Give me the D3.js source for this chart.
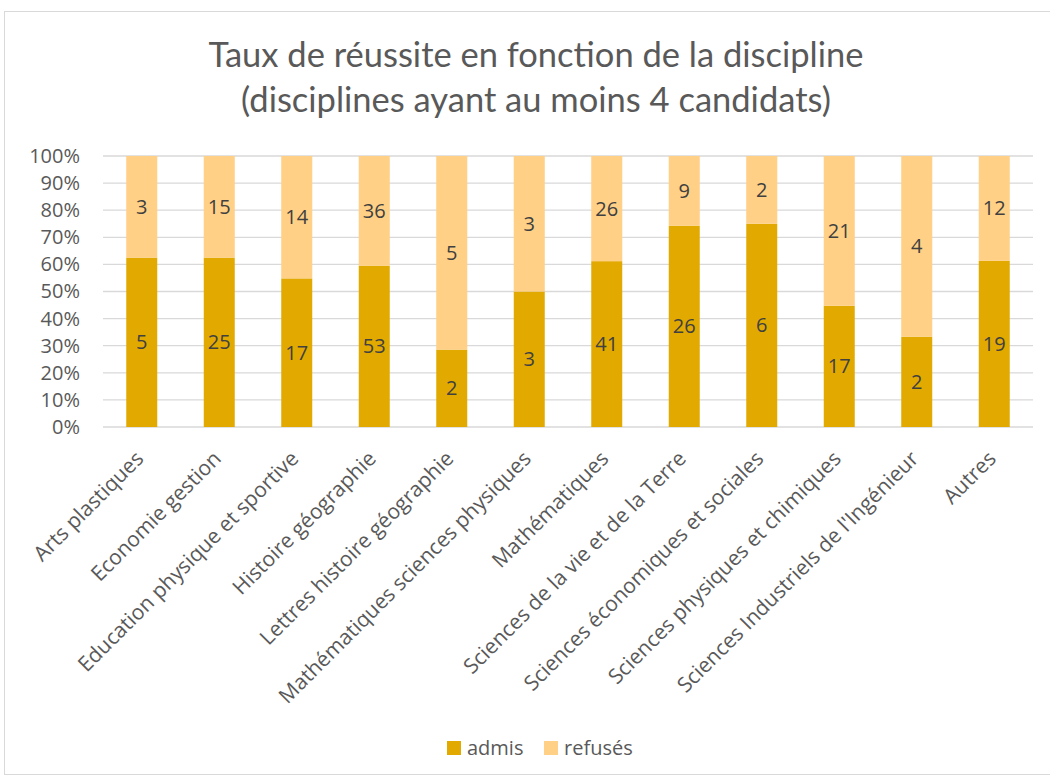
<!DOCTYPE html>
<html>
<head>
<meta charset="utf-8">
<script src="https://cdn.jsdelivr.net/npm/d3@7"></script>
<style>
  body { margin: 0; background: #fff; }
  text { font-family: "Open Sans", sans-serif; }
</style>
</head>
<body>
<svg id="chart"></svg>
<script>
const categories = ["Arts plastiques", "Economie gestion", "Education physique et sportive",
  "Histoire géographie", "Lettres histoire géographie", "Mathématiques sciences physiques",
  "Mathématiques", "Sciences de la vie et de la Terre", "Sciences économiques et sociales",
  "Sciences physiques et chimiques", "Sciences Industriels de l'Ingénieur", "Autres"];
const admis = [5, 25, 17, 53, 2, 3, 41, 26, 6, 17, 2, 19];
const refuses = [3, 15, 14, 36, 5, 3, 26, 9, 2, 21, 4, 12];
const seriesNames = ["admis", "refusés"];
const yTicks = [0, 0.1, 0.2, 0.3, 0.4, 0.5, 0.6, 0.7, 0.8, 0.9, 1];

const W = 1050, H = 778;
const margin = { top: 156, right: 17, bottom: 351, left: 103 };
const width = W - margin.left - margin.right;
const height = H - margin.top - margin.bottom;
const colors = { "admis": "#e2aa00", "refusés": "#ffd085" };

const svg = d3.select("#chart").attr("width", W).attr("height", H);

// chart frame
svg.append("rect")
  .attr("x", 4.5).attr("y", 11.5)
  .attr("width", W).attr("height", H - 15)
  .attr("fill", "none").attr("stroke", "#d9d9d9");

const title = svg.append("g");
title.append("text")
  .attr("x", 536).attr("y", 67)
  .attr("text-anchor", "middle")
  .attr("font-size", 34.5).attr("fill", "#595959")
  .style("font-family", "Lato, sans-serif")
  .text("Taux de réussite en fonction de la discipline");
title.append("text")
  .attr("x", 536).attr("y", 112)
  .attr("text-anchor", "middle")
  .attr("font-size", 34.5).attr("fill", "#595959")
  .style("font-family", "Lato, sans-serif")
  .text("(disciplines ayant au moins 4 candidats)");

const g = svg.append("g").attr("transform", `translate(${margin.left},${margin.top})`);

const data = categories.map((c, i) => ({ cat: c, "admis": admis[i], "refusés": refuses[i] }));
const stack = d3.stack().keys(seriesNames).offset(d3.stackOffsetExpand);
const layers = stack(data);

const x = d3.scaleBand().domain(categories).range([0, width]).paddingInner(0.6).paddingOuter(0.3);
const y = d3.scaleLinear().domain([0, 1]).range([height, 0]);

// gridlines
g.append("g")
  .selectAll("line")
  .data(yTicks)
  .join("line")
  .attr("x1", 0).attr("x2", width)
  .attr("y1", d => y(d)).attr("y2", d => y(d))
  .attr("stroke", "#d9d9d9").attr("stroke-width", 1.3);

const yAxis = d3.axisLeft(y).tickValues(yTicks).tickFormat(d3.format(".0%")).tickSize(0).tickPadding(23);
g.append("g").call(yAxis)
  .call(a => a.select(".domain").remove())
  .selectAll("text")
  .attr("font-size", 20).attr("fill", "#595959")
  .style("font-family", "'Open Sans', sans-serif");

const layerG = g.selectAll(".layer")
  .data(layers)
  .join("g")
  .attr("class", "layer")
  .attr("fill", d => colors[d.key]);

layerG.selectAll("rect")
  .data(d => d)
  .join("rect")
  .attr("x", d => x(d.data.cat))
  .attr("y", d => y(d[1]))
  .attr("width", x.bandwidth())
  .attr("height", d => y(d[0]) - y(d[1]));

layerG.selectAll(".lbl")
  .data(d => d.map(v => ({ v, key: d.key })))
  .join("text")
  .attr("class", "lbl")
  .attr("x", d => x(d.v.data.cat) + x.bandwidth() / 2)
  .attr("y", d => (y(d.v[0]) + y(d.v[1])) / 2)
  .attr("dy", "0.35em")
  .attr("text-anchor", "middle")
  .attr("font-size", 20).attr("fill", "#404040")
  .text(d => d.v.data[d.key]);

// category labels
const xAxis = d3.axisBottom(x).tickSize(0).tickPadding(0);
g.append("g")
  .attr("transform", `translate(0,${height})`)
  .call(xAxis)
  .call(a => a.select(".domain").remove())
  .selectAll("text")
  .attr("font-size", 21).attr("fill", "#595959")
  .style("font-family", "'Open Sans', sans-serif")
  .attr("text-anchor", "end")
  .attr("dy", null).attr("y", 0)
  .attr("transform", "translate(3,33) rotate(-45)");

// legend
const legend = svg.append("g").attr("transform", "translate(447,741)");
const items = legend.selectAll("g")
  .data(seriesNames)
  .join("g")
  .attr("transform", (d, i) => `translate(${i * 97},0)`);
items.append("rect").attr("width", 14).attr("height", 14).attr("fill", d => colors[d]);
items.append("text")
  .attr("x", 20).attr("y", 7).attr("dy", "0.35em")
  .attr("font-size", 20).attr("fill", "#595959")
  .text(d => d);
</script>
</body>
</html>
